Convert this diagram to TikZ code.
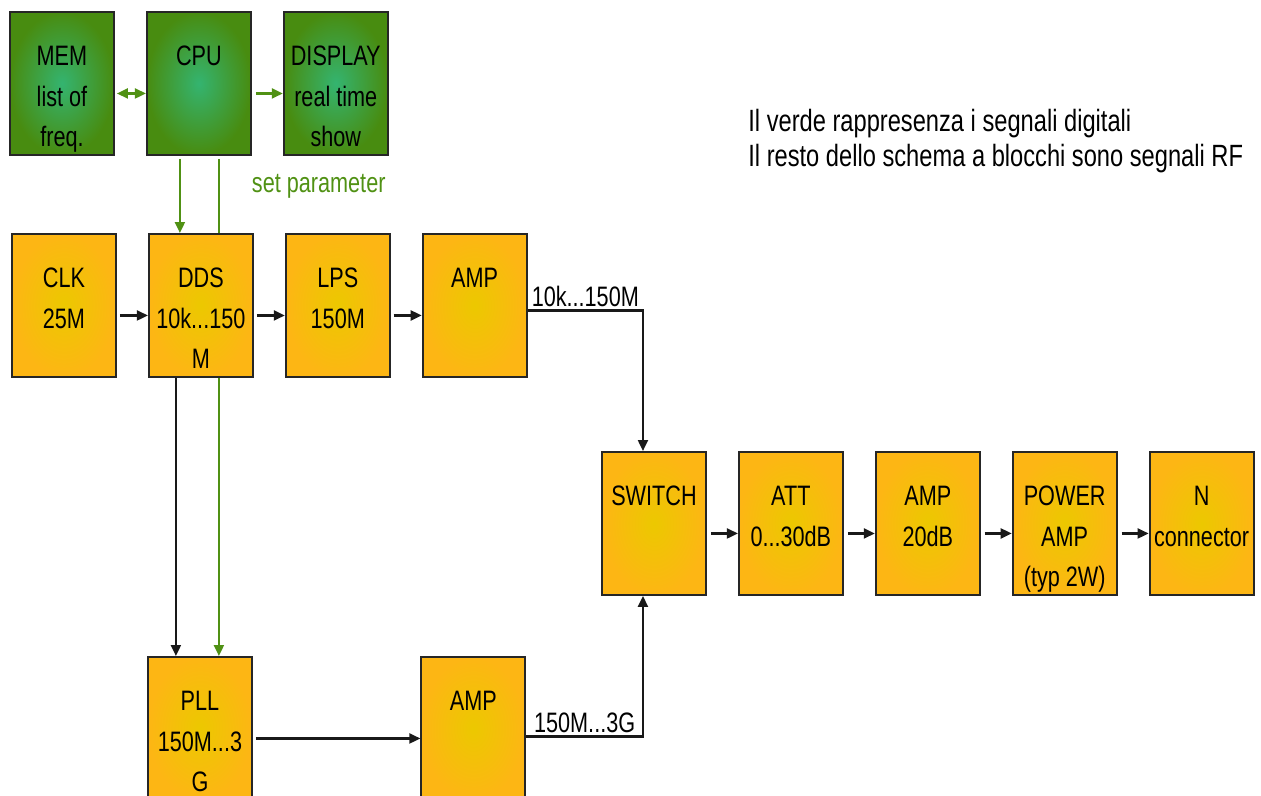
\documentclass[tikz,border=0pt]{standalone}
\usepackage{fontspec}
\setmainfont{Liberation Sans}[FakeStretch=0.77]
\usetikzlibrary{arrows.meta,positioning,calc,backgrounds}
\definecolor{rfin}{RGB}{236,200,0}
\definecolor{rfout}{RGB}{253,182,20}
\definecolor{digin}{RGB}{52,180,112}
\definecolor{digout}{RGB}{72,140,16}
\definecolor{digline}{RGB}{80,145,20}
\tikzset{
  >={Triangle[length=0.22cm,width=0.2cm]},
  blk/.style={
    rectangle, draw=black!85, line width=1.1pt,
    minimum width=2.08cm, minimum height=2.86cm, inner sep=0pt,
    text width=2.08cm, text height=1.08cm, text depth=1.78cm,
    align=flush center, anchor=north west, font=\fontsize{16}{22.8}\selectfont
  },
  rf/.style={blk, inner color=rfin, outer color=rfout},
  dig/.style={blk, inner color=digin, outer color=digout},
  arr/.style={->, line width=1.2pt, draw=black!90},
  darr/.style={->, line width=1.2pt, draw=digline},
  lbl/.style={font=\fontsize{16}{19}\selectfont, inner sep=1.5pt},
  note/.style={anchor=base west, align=left, inner sep=0pt,
               font=\fontsize{17.5}{19.4}\selectfont}
}

\begin{document}
\begin{tikzpicture}[x=0.02cm, y=-0.02cm, node distance=0.62cm]
  \clip (0,0) rectangle (1261,795);

  % digital part (top row)
  \node[dig] (mem) at (9,11) {MEM\\list of\\freq.};
  \node[dig, right=of mem] (cpu) {CPU};
  \node[dig, right=of cpu] (disp) {DISPLAY\\real time\\show};
  \draw[darr, <->] ($(mem.east)+(2,10)$) -- ($(cpu.west)+(0,10)$);
  \draw[darr] ($(cpu.east)+(4,10)$) -- ($(disp.west)+(0,10)$);
  \node[lbl, text=digline, anchor=base west] (setpar) at (249,192) {set parameter};

  \node[note] (legend) at (748,166) {Il verde rappresenza i segnali digitali\\Il resto dello schema a blocchi sono segnali RF};

  % RF chain, low band
  \node[rf] (clk) at (11,233) {CLK\\25M};
  \node[rf, right=of clk] (dds) {DDS\\10k...150\\M};
  \node[rf, right=of dds] (lps) {LPS\\150M};
  \node[rf, right=of lps] (amp1) {AMP};
  \foreach \a/\b in {clk/dds, dds/lps, lps/amp1}{
    \draw[arr] ($(\a.east)+(3,10)$) -- ($(\b.west)+(0,10)$);
  }

  % output chain
  \node[rf] (switch) at (601,451) {SWITCH};
  \node[rf, right=of switch] (att) {ATT\\0...30dB};
  \node[rf, right=of att] (amp3) {AMP\\20dB};
  \node[rf, right=of amp3] (pamp) {POWER\\AMP\\(typ 2W)};
  \node[rf, right=of pamp] (ncon) {N\\connector};
  \foreach \a/\b in {switch/att, att/amp3, amp3/pamp, pamp/ncon}{
    \draw[arr] ($(\a.east)+(4,10)$) -- ($(\b.west)+(0,10)$);
  }

  % high band
  \node[rf] (pll) at (147,656) {PLL\\150M...3\\G};
  \node[rf, right=3.35cm of pll] (amp2) {AMP};
  \draw[arr] ($(pll.east)+(3,10)$) coordinate (pllout) -- (pllout -| amp2.west);

  \draw[arr] ($(amp1.east)+(0,5)$) -| node[lbl, pos=0.25, above] {10k...150M} ($(switch.north)+(-11,0)$);
  \draw[arr] ($(amp2.east)+(0,8)$) -| node[lbl, pos=0.25, above] {150M...3G} ($(switch.south)+(-11,0)$);
  \draw[arr] ($(dds.south west)+(28,0)$) coordinate (ddsout) -- (ddsout |- pll.north);

  % set parameter lines
  \draw[darr] ($(cpu.south west)+(34,3)$) coordinate (cpupar) -- (cpupar |- dds.north);
  \begin{scope}[on background layer]
    \draw[darr] ($(cpu.south west)+(73,3)$) coordinate (cpuset) -- (cpuset |- pll.north);
  \end{scope}
\end{tikzpicture}
\end{document}
